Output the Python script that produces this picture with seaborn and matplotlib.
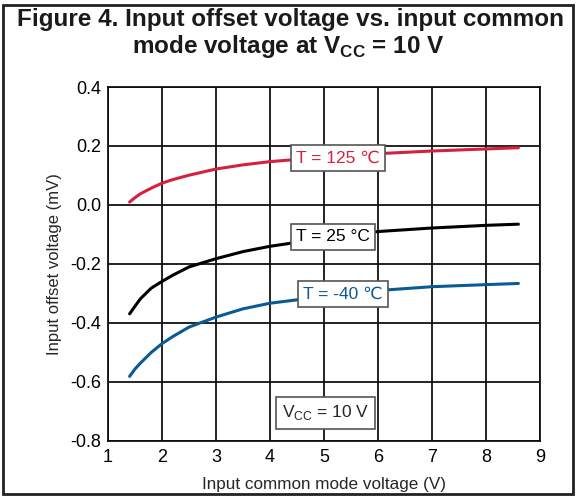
import matplotlib
matplotlib.use("Agg")
import matplotlib.pyplot as plt
import seaborn as sns
import pandas as pd
from matplotlib.patches import Rectangle

# Data
vcm = [1.4, 1.5, 1.6, 1.8, 2.0, 2.2, 2.5, 3.0, 3.5, 4.0, 5.0, 6.0, 7.0, 8.0, 8.6]
vio_125 = [0.01, 0.025, 0.038, 0.057, 0.074, 0.086, 0.101, 0.122, 0.136, 0.147, 0.162, 0.174, 0.183, 0.19, 0.194]
vio_25 = [-0.369, -0.343, -0.318, -0.282, -0.259, -0.238, -0.21, -0.182, -0.158, -0.14, -0.113, -0.09, -0.078, -0.069, -0.065]
vio_m40 = [-0.581, -0.556, -0.536, -0.5, -0.47, -0.446, -0.414, -0.38, -0.352, -0.333, -0.31, -0.29, -0.277, -0.27, -0.266]
temps = ["T = 125 \u2103", "T = 25 \u00b0C", "T = -40 \u2103"]
x_ticks = [1, 2, 3, 4, 5, 6, 7, 8, 9]
y_ticks = [-0.8, -0.6, -0.4, -0.2, 0.0, 0.2, 0.4]

COLORS = {temps[0]: "#d5203f", temps[1]: "#000000", temps[2]: "#0a5a96"}

df = pd.concat([
    pd.DataFrame({"vcm": vcm, "vio": v, "temp": t})
    for v, t in zip([vio_125, vio_25, vio_m40], temps)
])

sns.set_theme(style="white")
plt.rcParams.update({
    "font.family": ["Liberation Sans", "DejaVu Sans"],
    "mathtext.fontset": "custom",
    "mathtext.rm": "Liberation Sans",
    "mathtext.bf": "Liberation Sans:bold",
})

fig = plt.figure(figsize=(5.76, 4.98), dpi=100)
ax = fig.add_axes([0.1875, 0.1145, 0.75, 0.7108])

sns.lineplot(data=df, x="vcm", y="vio", hue="temp", palette=COLORS,
             linewidth=2.2, legend=False, ax=ax, zorder=3)

ax.set_xlim(1, 9)
ax.set_ylim(-0.8, 0.4)
ax.set_xticks(x_ticks)
ax.set_yticks(y_ticks)
ax.set_yticklabels([f"{v:.1f}" for v in y_ticks])
ax.grid(True, color="#111111", linewidth=1.3)
ax.tick_params(length=0, labelsize=13, colors="black")
ax.tick_params(axis="x", pad=6)
ax.tick_params(axis="y", pad=5)
for s in ax.spines.values():
    s.set_color("#111111")
    s.set_linewidth(1.3)
ax.set_xlabel("Input common mode voltage (V)", fontsize=12.3, labelpad=8)
ax.set_ylabel("Input offset voltage (mV)", fontsize=12, labelpad=6)

# Curve labels
label_pos = {temps[0]: (5.26, 0.159), temps[1]: (5.17, -0.108), temps[2]: (5.35, -0.302)}
for t in temps:
    x, y = label_pos[t]
    ax.text(x, y, t, color=COLORS[t], fontsize=12.5, ha="center", va="center", zorder=5,
            bbox=dict(boxstyle="square,pad=0.3", fc="white", ec="#555555", lw=1.2))

ax.text(5.03, -0.705, r"V$_{\mathrm{CC}}$ = 10 V", fontsize=12.5, ha="center", va="center", zorder=5,
        bbox=dict(boxstyle="square,pad=0.35", fc="white", ec="#555555", lw=1.2))

# Title
fig.text(0.504, 0.947, "Figure 4. Input offset voltage vs. input common", fontsize=17.5,
         fontweight="bold", ha="center", va="baseline", color="#1a1a1a")
fig.text(0.50, 0.894, r"mode voltage at V$_{\mathbf{CC}}$ = 10 V", fontsize=17.5,
         fontweight="bold", ha="center", va="baseline", color="#1a1a1a")

# Outer frame
fig.patches.append(Rectangle((0.006, 0.008), 0.988, 0.982, transform=fig.transFigure,
                             fill=False, ec="#222222", lw=2))

fig.savefig("out.png", dpi=100)
